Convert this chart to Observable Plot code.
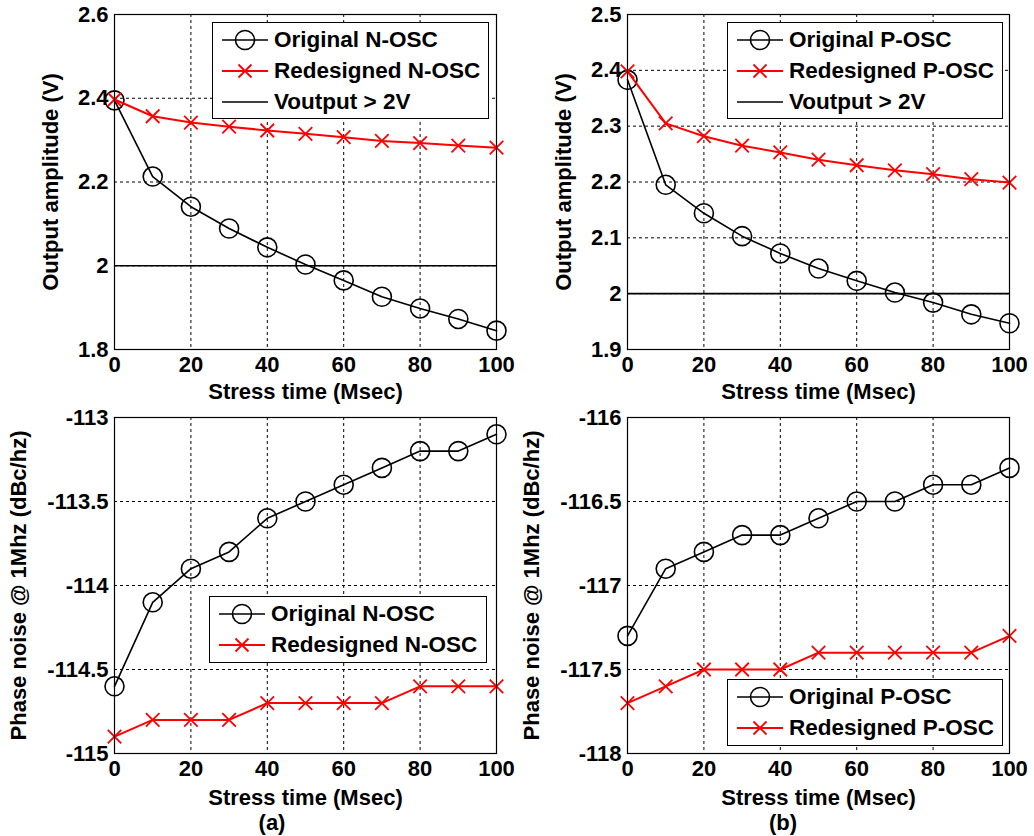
<!DOCTYPE html>
<html><head><meta charset="utf-8">
<script src="https://cdn.jsdelivr.net/npm/d3@7"></script>
<script src="https://cdn.jsdelivr.net/npm/@observablehq/plot@0.6"></script>
<style>
body{margin:0;background:#fff;font-family:"Liberation Sans",Arial,sans-serif;font-weight:bold;color:#000;}
#wrap{position:relative;width:1034px;height:836px;overflow:hidden;}
.panel{position:absolute;}
.legend{position:absolute;background:#fff;border:1px solid #000;box-sizing:border-box;font-size:22.5px;}
.row{position:absolute;left:0;height:30px;display:flex;align-items:center;white-space:nowrap;}
.row svg{flex:none;}
.cap{position:absolute;font-size:22px;transform:translate(-50%,-50%);}
</style></head>
<body><div id="wrap"></div>
<script>
// ---- data ----
const stressTime = [0,10,20,30,40,50,60,70,80,90,100];
const xTicks = [0,20,40,60,80,100];

const ampOrigN  = [2.395,2.213,2.141,2.089,2.044,2.003,1.965,1.926,1.898,1.873,1.845];
const ampRedN   = [2.397,2.357,2.342,2.332,2.323,2.315,2.307,2.298,2.293,2.287,2.282];
const ampOrigP  = [2.383,2.195,2.144,2.103,2.072,2.045,2.023,2.002,1.984,1.963,1.947];
const ampRedP   = [2.398,2.305,2.282,2.265,2.253,2.240,2.230,2.221,2.214,2.205,2.199];
const pnOrigN   = [-114.6,-114.1,-113.9,-113.8,-113.6,-113.5,-113.4,-113.3,-113.2,-113.2,-113.1];
const pnRedN    = [-114.9,-114.8,-114.8,-114.8,-114.7,-114.7,-114.7,-114.7,-114.6,-114.6,-114.6];
const pnOrigP   = [-117.3,-116.9,-116.8,-116.7,-116.7,-116.6,-116.5,-116.5,-116.4,-116.4,-116.3];
const pnRedP    = [-117.7,-117.6,-117.5,-117.5,-117.5,-117.4,-117.4,-117.4,-117.4,-117.4,-117.3];
const voutThreshold = 2;

const ampTicksN = [1.8,2,2.2,2.4,2.6];
const ampTicksP = [1.9,2,2.1,2.2,2.3,2.4,2.5];
const pnTicksN  = [-115,-114.5,-114,-113.5,-113];
const pnTicksP  = [-118,-117.5,-117,-116.5,-116];

const xLabel = "Stress time (Msec)";
const ampLabel = "Output amplitude (V)";
const pnLabel = "Phase noise @ 1Mhz (dBc/hz)";
const namesN = ["Original N-OSC","Redesigned N-OSC"];
const namesP = ["Original P-OSC","Redesigned P-OSC"];
const thresholdName = "Voutput > 2V";
const captions = ["(a)","(b)"];

// ---- drawing ----
const wrap = document.getElementById("wrap");
const toRows = ys => stressTime.map((t,i) => ({t, v: ys[i]}));

function panel(o){
  const orig = toRows(o.orig), red = toRows(o.red);
  const marks = [
    Plot.gridX(xTicks, {stroke:"#000", strokeOpacity:1, strokeWidth:1, strokeDasharray:"3,3"}),
    Plot.gridY(o.yTicks, {stroke:"#000", strokeOpacity:1, strokeWidth:1, strokeDasharray:"3,3"})
  ];
  if (o.threshold != null) marks.push(Plot.ruleY([o.threshold], {stroke:"#000", strokeWidth:1.6}));
  marks.push(
    Plot.line(orig, {x:"t", y:"v", stroke:"#000", strokeWidth:1.6}),
    Plot.dot(orig, {x:"t", y:"v", r:9.5, stroke:"#000", fill:"none", strokeWidth:1.6}),
    Plot.line(red, {x:"t", y:"v", stroke:"#ff0000", strokeWidth:2}),
    Plot.dot(red, {x:"t", y:"v", symbol:"times", r:6.2, stroke:"#ff0000", strokeWidth:1.8}),
    Plot.frame({stroke:"#000", strokeWidth:1.2}),
    Plot.axisX(xTicks, {tickSize:0, tickPadding:7, tickFormat:d=>String(d), label:xLabel, labelAnchor:"center", labelArrow:"none", labelOffset:o.xLabelOffset, fontSize:22}),
    Plot.axisY(o.yTicks, {tickSize:0, tickPadding:6, tickFormat:d=>String(d), label:o.yLabel, labelAnchor:"center", labelArrow:"none", labelOffset:o.yLabelOffset, fontSize:22})
  );
  const chart = Plot.plot({
    width:o.width, height:o.height,
    marginLeft:o.ml, marginRight:o.mr, marginTop:o.mt, marginBottom:o.mb,
    x:{domain:[0,100]}, y:{domain:[o.yTicks[0], o.yTicks[o.yTicks.length-1]]},
    style:{fontFamily:'"Liberation Sans", Arial, sans-serif', fontWeight:"bold", fontSize:"22px", color:"#000", background:"transparent", overflow:"visible"},
    marks
  });
  const div = document.createElement("div");
  div.className = "panel";
  div.style.left = o.left + "px"; div.style.top = o.top + "px";
  div.appendChild(chart);
  wrap.appendChild(div);

  // legend
  const lg = document.createElement("div");
  lg.className = "legend";
  Object.assign(lg.style, {left:o.lg.x+"px", top:o.lg.y+"px", width:o.lg.w+"px", height:o.lg.h+"px"});
  const entries = [{name:o.names[0], kind:"circle", color:"#000"}, {name:o.names[1], kind:"times", color:"#ff0000"}];
  if (o.threshold != null) entries.push({name:thresholdName, kind:"line", color:"#000"});
  entries.forEach((e,i) => {
    const row = document.createElement("div");
    row.className = "row";
    row.style.top = (2 + i*31) + "px";
    let sym = "";
    if (e.kind === "circle") sym = `<circle cx="32" cy="15" r="9.5" fill="none" stroke="#000" stroke-width="1.6"/>`;
    if (e.kind === "times") sym = `<path d="M25.5,8.5L38.5,21.5M25.5,21.5L38.5,8.5" stroke="#ff0000" stroke-width="1.8"/>`;
    row.innerHTML = `<svg width="61" height="30"><line x1="9" x2="55" y1="15" y2="15" stroke="${e.color}" stroke-width="${e.kind==='times'?2:1.6}"/>${sym}</svg><span>${e.name}</span>`;
    lg.appendChild(row);
  });
  wrap.appendChild(lg);
}

panel({left:0, top:0, width:517, height:400, ml:114, mr:21, mt:14, mb:51, yTicks:ampTicksN, yLabel:ampLabel,
  orig:ampOrigN, red:ampRedN, threshold:voutThreshold, names:namesN, xLabelOffset:49, yLabelOffset:72,
  lg:{x:212, y:22, w:277, h:97}});
panel({left:517, top:0, width:517, height:400, ml:110, mr:25, mt:14, mb:51, yTicks:ampTicksP, yLabel:ampLabel,
  orig:ampOrigP, red:ampRedP, threshold:voutThreshold, names:namesP, xLabelOffset:49, yLabelOffset:72,
  lg:{x:727, y:22, w:276, h:97}});
panel({left:0, top:400, width:517, height:405, ml:114, mr:21, mt:17, mb:52, yTicks:pnTicksN, yLabel:pnLabel,
  orig:pnOrigN, red:pnRedN, threshold:null, names:namesN, xLabelOffset:51, yLabelOffset:104,
  lg:{x:209, y:596, w:278, h:67}});
panel({left:517, top:400, width:517, height:405, ml:110, mr:25, mt:17, mb:52, yTicks:pnTicksP, yLabel:pnLabel,
  orig:pnOrigP, red:pnRedP, threshold:null, names:namesP, xLabelOffset:51, yLabelOffset:104,
  lg:{x:727, y:679, w:276, h:67}});

[[272,823],[783,823]].forEach(([x,y],i) => {
  const c = document.createElement("div");
  c.className = "cap"; c.textContent = captions[i];
  c.style.left = x+"px"; c.style.top = y+"px";
  wrap.appendChild(c);
});
</script>
</body></html>
